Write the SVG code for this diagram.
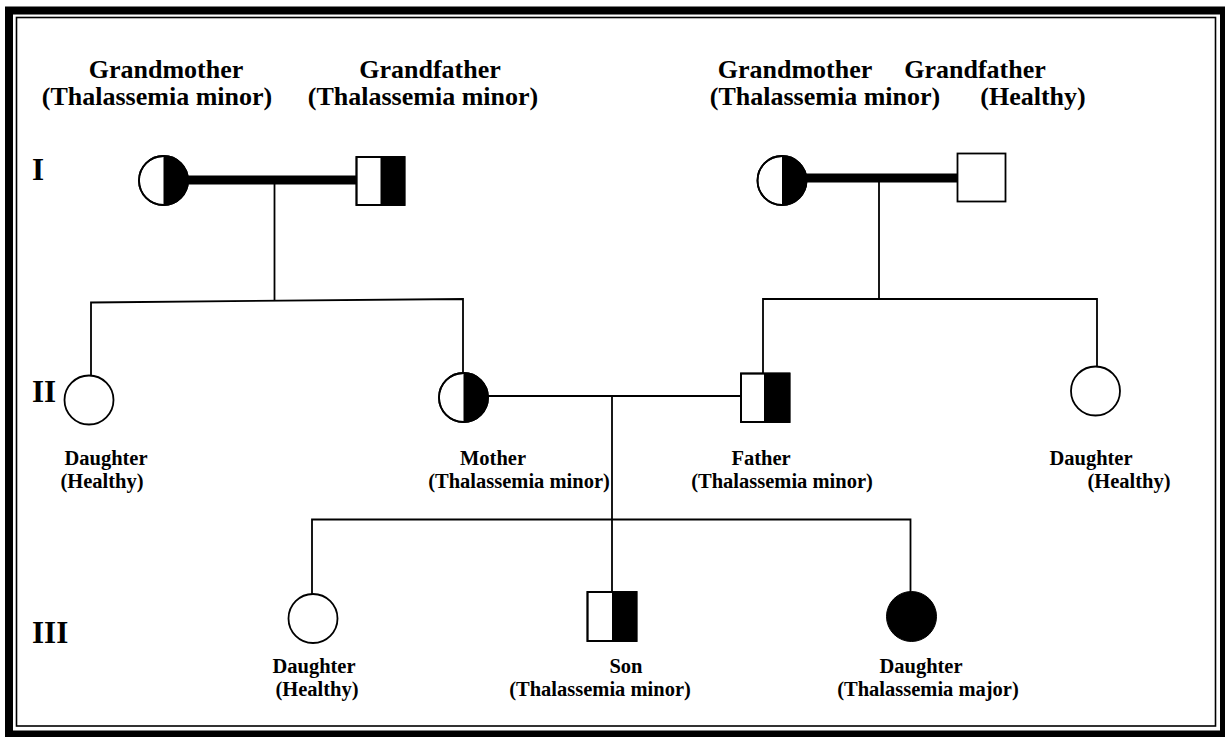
<svg xmlns="http://www.w3.org/2000/svg" width="1225" height="737" viewBox="0 0 1225 737">
  <style>
    text { font-family: "Liberation Serif", "Times New Roman", serif; font-weight: bold; fill: #000; }
    .big { font-family: "Liberation Serif", "Times New Roman", serif; font-size: 26px; text-anchor: middle; }
    .small { font-family: "Liberation Serif", "Times New Roman", serif; font-size: 20.5px; text-anchor: middle; }
    .gen { font-family: "Liberation Serif", "Times New Roman", serif; font-size: 31px; }
    .line { stroke: #000; stroke-width: 1.8; fill: none; }
    .mate { stroke: #000; stroke-width: 9; fill: none; }
    .shape { stroke: #000; stroke-width: 1.8; fill: #fff; }
    .edge { stroke: #000; stroke-width: 1.8; fill: none; }
    .fill { fill: #000; stroke: none; }
  </style>

  <rect x="0" y="0" width="1225" height="737" fill="#fff"/>

  <!-- double frame -->
  <g id="frame" fill="none" stroke="#000">
    <rect x="9" y="10.5" width="1215" height="724" stroke-width="8"/>
    <rect x="16.5" y="17.5" width="1199" height="708.5" stroke-width="1.6"/>
  </g>

  <!-- generation numerals -->
  <g id="generations">
    <text class="gen" x="32" y="180">I</text>
    <text class="gen" x="32" y="402">II</text>
    <text class="gen" x="32" y="643">III</text>
  </g>

  <!-- connectors -->
  <g id="connectors">
    <line class="mate" x1="188" y1="180" x2="357" y2="180"/>
    <line class="mate" x1="806" y1="178" x2="958" y2="178"/>
    <line class="line" x1="274.5" y1="180" x2="274.5" y2="301"/>
    <polyline class="line" points="91,376 91,302.5 463,299 463,373"/>
    <line class="line" x1="879" y1="178" x2="879" y2="299"/>
    <polyline class="line" points="763,373 763,299 1097,299 1097,367"/>
    <line class="line" x1="488" y1="396" x2="741" y2="396"/>
    <line class="line" x1="612" y1="396" x2="612" y2="592"/>
    <polyline class="line" points="312,594 312,519.5 910.5,519.5 910.5,592"/>
  </g>

  <!-- generation I, left couple -->
  <g id="grandmother-left">
    <text class="big" x="166" y="78">Grandmother</text>
    <text class="big" x="157" y="105">(Thalassemia minor)</text>
    <circle class="shape" cx="163.5" cy="180.5" r="24.5"/>
    <path class="fill" d="M163.5,156 A24.5,24.5 0 0 1 163.5,205 Z"/>
    <circle class="edge" cx="163.5" cy="180.5" r="24.5"/>
  </g>
  <g id="grandfather-left">
    <text class="big" x="430" y="78">Grandfather</text>
    <text class="big" x="423" y="105">(Thalassemia minor)</text>
    <rect class="shape" x="356.5" y="157" width="48" height="48"/>
    <rect class="fill" x="380.5" y="157" width="24" height="48"/>
    <rect class="edge" x="356.5" y="157" width="48" height="48"/>
  </g>

  <!-- generation I, right couple -->
  <g id="grandmother-right">
    <text class="big" x="795" y="78">Grandmother</text>
    <text class="big" x="825" y="105">(Thalassemia minor)</text>
    <circle class="shape" cx="782" cy="180.5" r="24.5"/>
    <path class="fill" d="M782,156 A24.5,24.5 0 0 1 782,205 Z"/>
    <circle class="edge" cx="782" cy="180.5" r="24.5"/>
  </g>
  <g id="grandfather-right">
    <text class="big" x="975" y="78">Grandfather</text>
    <text class="big" x="1033" y="105">(Healthy)</text>
    <rect class="shape" x="957.5" y="153.5" width="48" height="48"/>
  </g>

  <!-- generation II -->
  <g id="daughter-ii-left">
    <circle class="shape" cx="89" cy="400" r="24.5"/>
    <text class="small" x="106" y="465">Daughter</text>
    <text class="small" x="102" y="488">(Healthy)</text>
  </g>
  <g id="mother">
    <circle class="shape" cx="463.5" cy="397.5" r="24.5"/>
    <path class="fill" d="M463.5,373 A24.5,24.5 0 0 1 463.5,422 Z"/>
    <circle class="edge" cx="463.5" cy="397.5" r="24.5"/>
    <text class="small" x="493" y="465">Mother</text>
    <text class="small" x="519" y="488">(Thalassemia minor)</text>
  </g>
  <g id="father">
    <rect class="shape" x="741" y="373.5" width="48.5" height="48.5"/>
    <rect class="fill" x="764" y="373.5" width="25.5" height="48.5"/>
    <rect class="edge" x="741" y="373.5" width="48.5" height="48.5"/>
    <text class="small" x="761" y="465">Father</text>
    <text class="small" x="782" y="488">(Thalassemia minor)</text>
  </g>
  <g id="daughter-ii-right">
    <circle class="shape" cx="1095.5" cy="391" r="24.5"/>
    <text class="small" x="1091" y="465">Daughter</text>
    <text class="small" x="1129" y="488">(Healthy)</text>
  </g>

  <!-- generation III -->
  <g id="daughter-iii-healthy">
    <circle class="shape" cx="313" cy="618.5" r="24.5"/>
    <text class="small" x="314" y="673">Daughter</text>
    <text class="small" x="317" y="696">(Healthy)</text>
  </g>
  <g id="son">
    <rect class="shape" x="587.5" y="592" width="49" height="49"/>
    <rect class="fill" x="612" y="592" width="24.5" height="49"/>
    <rect class="edge" x="587.5" y="592" width="49" height="49"/>
    <text class="small" x="626" y="673">Son</text>
    <text class="small" x="600" y="696">(Thalassemia minor)</text>
  </g>
  <g id="daughter-iii-major">
    <circle cx="911.5" cy="616.5" r="25" fill="#000" stroke="#000" stroke-width="1"/>
    <text class="small" x="921" y="673">Daughter</text>
    <text class="small" x="928" y="696">(Thalassemia major)</text>
  </g>
</svg>
